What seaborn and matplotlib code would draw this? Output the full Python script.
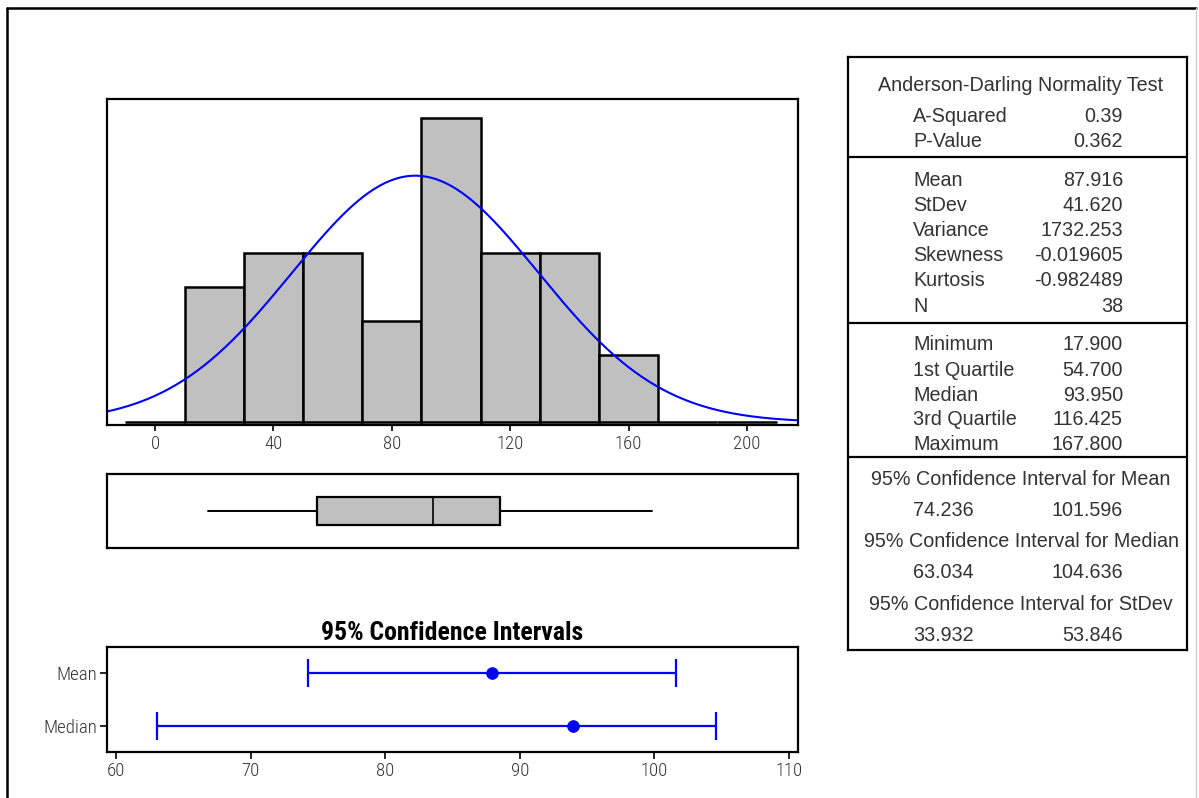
import numpy as np
import pandas as pd
import matplotlib
matplotlib.use("Agg")
import matplotlib.pyplot as plt
from matplotlib import font_manager
import seaborn as sns

sns.set_theme(style="white")

# ---- data ----
bin_edges = [-10, 10, 30, 50, 70, 90, 110, 130, 150, 170, 190, 210]
bin_counts = [0, 4, 5, 5, 3, 9, 5, 5, 2, 0, 0]

n_obs = 38
mean_val = 87.916
stdev_val = 41.620
minimum = 17.900
q1 = 54.700
median_val = 93.950
q3 = 116.425
maximum = 167.800

ci_labels = ["Mean", "Median"]
ci_centers = [87.916, 93.950]
ci_low = [74.236, 63.034]
ci_high = [101.596, 104.636]

hist_ticks = [0, 40, 80, 120, 160, 200]
ci_ticks = [60, 70, 80, 90, 100, 110]

stats_rows = [
    ("A-Squared", "0.39"), ("P-Value", "0.362"),
    ("Mean", "87.916"), ("StDev", "41.620"), ("Variance", "1732.253"),
    ("Skewness", "-0.019605"), ("Kurtosis", "-0.982489"), ("N", "38"),
    ("Minimum", "17.900"), ("1st Quartile", "54.700"), ("Median", "93.950"),
    ("3rd Quartile", "116.425"), ("Maximum", "167.800"),
]
ci_rows = [
    ("95% Confidence Interval for Mean", "74.236", "101.596"),
    ("95% Confidence Interval for Median", "63.034", "104.636"),
    ("95% Confidence Interval for StDev", "33.932", "53.846"),
]

installed = {f.name for f in font_manager.fontManager.ttflist}


def first_font(cands):
    for c in cands:
        if c in installed:
            return c
    return "DejaVu Sans"


narrow = first_font(["Liberation Sans Narrow", "DejaVu Sans Condensed",
                     "Roboto Condensed", "Open Sans Condensed", "Noto Sans"])
plain = first_font(["Liberation Sans", "DejaVu Sans"])
plt.rcParams["font.family"] = [narrow, "DejaVu Sans"]

W, H = 1199, 798
fig = plt.figure(figsize=(W / 100, H / 100), dpi=100)
fig.patch.set_facecolor("white")


def px_axes(left, top, right, bottom):
    return fig.add_axes([left / W, (H - bottom) / H, (right - left) / W, (bottom - top) / H])


def frame(ax, lw=1.6):
    for s in ax.spines.values():
        s.set_visible(True)
        s.set_color("black")
        s.set_linewidth(lw)


GRAY = "#c0c0c0"
BLUE = "#0000ff"
TXT = "#333333"

# ---- outer frame ----
fig.add_artist(plt.Line2D([7 / W, 7 / W], [0, 1 - 8 / H], color="black", lw=1.8))
fig.add_artist(plt.Line2D([7 / W, 1196 / W], [1 - 8 / H, 1 - 8 / H], color="black", lw=1.8))
fig.add_artist(plt.Line2D([1196 / W, 1196 / W], [0, 1 - 8 / H], color="#cccccc", lw=1.0))

# ---- histogram with fitted normal curve ----
xlim_hist = (-16.2, 217.2)
ax_h = px_axes(107, 99, 798, 425)
centers = [(a + b) / 2 for a, b in zip(bin_edges[:-1], bin_edges[1:])]
hist_df = pd.DataFrame({"x": centers, "w": bin_counts})
sns.histplot(data=hist_df, x="x", weights="w", bins=bin_edges, ax=ax_h,
             color=GRAY, edgecolor="black", linewidth=1.8, alpha=1.0)
xs = np.linspace(xlim_hist[0], xlim_hist[1], 400)
binw = bin_edges[1] - bin_edges[0]
ys = n_obs * binw * np.exp(-0.5 * ((xs - mean_val) / stdev_val) ** 2) / (stdev_val * np.sqrt(2 * np.pi))
sns.lineplot(x=xs, y=ys, ax=ax_h, color=BLUE, lw=1.5)
ax_h.set_xlim(*xlim_hist)
ax_h.set_ylim(-0.08, 9.55)
ax_h.set_xticks(hist_ticks)
ax_h.set_xticklabels([str(t) for t in hist_ticks], fontweight="light")
ax_h.set_yticks([])
ax_h.set_xlabel("")
ax_h.set_ylabel("")
ax_h.tick_params(axis="x", bottom=True, length=4, width=1.2, color="black",
                 labelsize=13.5, labelcolor=TXT, pad=3)
frame(ax_h)

# ---- boxplot on the same scale ----
ax_b = px_axes(107, 474, 798, 548)
ax_b.bxp([{"med": median_val, "q1": q1, "q3": q3, "whislo": minimum,
           "whishi": maximum, "fliers": []}],
         positions=[0], vert=False, widths=0.46, showcaps=False, patch_artist=True,
         boxprops=dict(facecolor=GRAY, edgecolor="black", linewidth=1.6),
         whiskerprops=dict(color="black", linewidth=1.4),
         medianprops=dict(color="black", linewidth=1.2))
ax_b.set_xlim(*xlim_hist)
ax_b.set_ylim(-0.6, 0.6)
ax_b.set_xticks([])
ax_b.set_yticks([])
frame(ax_b)

# ---- confidence intervals ----
ax_c = px_axes(107, 647, 798, 752)
ypos = np.arange(len(ci_labels))
lo_err = np.array(ci_centers) - np.array(ci_low)
hi_err = np.array(ci_high) - np.array(ci_centers)
ax_c.errorbar(ci_centers, ypos, xerr=[lo_err, hi_err], fmt="none",
              ecolor=BLUE, elinewidth=1.6, capsize=10, capthick=1.6)
sns.scatterplot(x=ci_centers, y=ypos, ax=ax_c, color=BLUE, s=70,
                edgecolor=BLUE, zorder=5)
ax_c.set_xlim(59.3, 110.7)
ax_c.set_ylim(1.5, -0.5)
ax_c.set_xticks(ci_ticks)
ax_c.set_xticklabels([str(t) for t in ci_ticks], fontweight="light")
ax_c.set_yticks(ypos)
ax_c.set_yticklabels(ci_labels, fontweight="light")
ax_c.tick_params(axis="both", bottom=True, left=True, length=5, width=1.2,
                 color="black", labelsize=13.5, labelcolor=TXT, pad=2)
ax_c.set_title("95% Confidence Intervals", fontsize=18.5, fontweight="bold",
               pad=5, color="black", family=[narrow, "DejaVu Sans"])
frame(ax_c)

# ---- summary table ----
ax_t = px_axes(848, 57, 1187, 650)
ax_t.set_xlim(848, 1187)
ax_t.set_ylim(650, 57)
ax_t.set_xticks([])
ax_t.set_yticks([])
frame(ax_t, lw=1.6)
for yy in (157, 323, 457):
    ax_t.axhline(yy, color="black", lw=1.6)

tkw = dict(fontsize=14.2, color=TXT, family=[plain, "DejaVu Sans"], va="center")
ax_t.text(1021, 85, "Anderson-Darling Normality Test", ha="center", **tkw)
row_y = [116, 141, 180, 205, 230, 255, 280, 306, 344, 370, 395, 419, 444]
for (lab, val), yy in zip(stats_rows, row_y):
    ax_t.text(913, yy, lab, ha="left", **tkw)
    ax_t.text(1123, yy, val, ha="right", **tkw)
for i, (title, lo, hi) in enumerate(ci_rows):
    y0 = 479 + i * 62.5
    ax_t.text(1021, y0, title, ha="center", **tkw)
    ax_t.text(913, y0 + 31, lo, ha="left", **tkw)
    ax_t.text(1123, y0 + 31, hi, ha="right", **tkw)

fig.savefig("out.png", dpi=100, facecolor="white")
